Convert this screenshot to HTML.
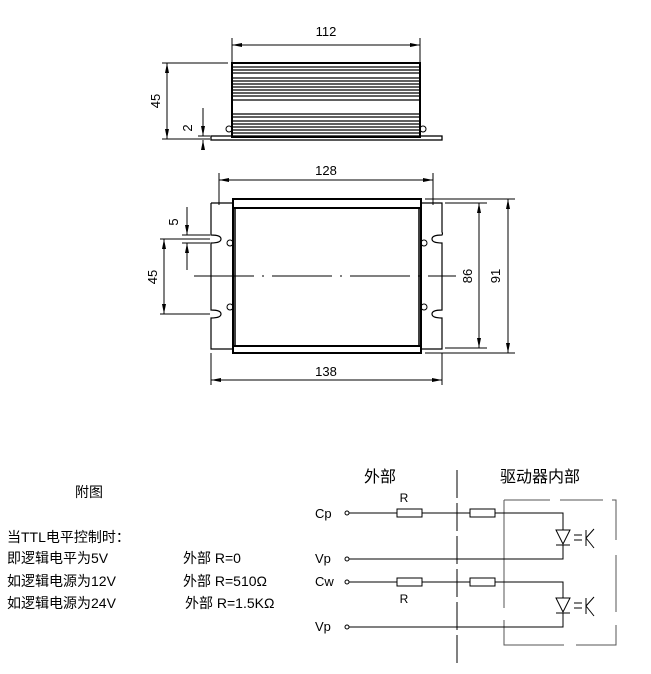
<!DOCTYPE html>
<html><head><meta charset="utf-8"><style>
body{margin:0;background:#fff}
svg{display:block}
text{font-family:"Liberation Sans","Noto Sans CJK SC",sans-serif;fill:#000}
</style></head><body>
<svg width="651" height="674" viewBox="0 0 651 674" xmlns="http://www.w3.org/2000/svg">
<defs>
<marker id="a" viewBox="0 0 10 4" refX="10" refY="2" markerWidth="10" markerHeight="4" orient="auto-start-reverse" markerUnits="userSpaceOnUse"><path d="M0,0 L10,2 L0,4z" fill="#000"/></marker>
</defs>
<g stroke="#000" fill="none" stroke-width="1">
<!-- top view -->
<line x1="232" y1="45" x2="420" y2="45" marker-start="url(#a)" marker-end="url(#a)"/>
<line x1="232" y1="38" x2="232" y2="62"/><line x1="420" y1="38" x2="420" y2="62"/>
<rect x="232" y="63" width="188" height="74" stroke-width="2"/>
<g stroke-width="1.3">
<line x1="232" y1="67" x2="420" y2="67"/><line x1="232" y1="70" x2="420" y2="70"/><line x1="232" y1="73" x2="420" y2="73"/>
<line x1="232" y1="78" x2="420" y2="78"/><line x1="232" y1="81" x2="420" y2="81"/><line x1="232" y1="84" x2="420" y2="84"/>
<line x1="232" y1="87" x2="420" y2="87"/><line x1="232" y1="90" x2="420" y2="90"/><line x1="232" y1="93" x2="420" y2="93"/>
<line x1="232" y1="96" x2="420" y2="96"/><line x1="232" y1="100" x2="420" y2="100"/>
<line x1="232" y1="114" x2="420" y2="114"/><line x1="232" y1="117" x2="420" y2="117"/><line x1="232" y1="121" x2="420" y2="121"/>
<line x1="232" y1="124" x2="420" y2="124"/><line x1="232" y1="127" x2="420" y2="127"/><line x1="232" y1="130" x2="420" y2="130"/><line x1="232" y1="133" x2="420" y2="133"/>
</g>
<rect x="211" y="136" width="231" height="4" stroke-width="1.3"/>
<circle cx="229" cy="129" r="3"/><circle cx="423" cy="129" r="3"/>
<line x1="162" y1="63" x2="228" y2="63"/><line x1="162" y1="139" x2="210" y2="139"/>
<line x1="167" y1="63" x2="167" y2="139" marker-start="url(#a)" marker-end="url(#a)"/>
<line x1="198" y1="136" x2="210" y2="136"/>
<line x1="203" y1="108" x2="203" y2="136" marker-end="url(#a)"/>
<line x1="203" y1="150" x2="203" y2="140" marker-end="url(#a)"/>
<!-- bottom view -->
<line x1="219" y1="180" x2="433" y2="180" marker-start="url(#a)" marker-end="url(#a)"/>
<line x1="219" y1="173" x2="219" y2="205"/><line x1="433" y1="173" x2="433" y2="205"/>
<path d="M211,203 H233 M421,203 H442 V232 A3,3 0 0 1 442,235 Q432,235 432,239 Q432,243 442,243 V310 Q432,310 432,314 Q432,318 442,318 V349 H421 M233,349 H211 V318 Q221,318 221,314 Q221,310 211,310 V243 Q221,243 221,239 Q221,235 211,235 V203" stroke-width="1.2"/>
<rect x="233" y="199" width="188" height="154" stroke-width="2"/>
<line x1="233" y1="208" x2="421" y2="208" stroke-width="2"/>
<line x1="233" y1="346" x2="421" y2="346" stroke-width="2"/>
<line x1="235" y1="208" x2="235" y2="346" stroke-width="1.5"/><line x1="419" y1="208" x2="419" y2="346" stroke-width="1.5"/>
<circle cx="230" cy="243" r="3"/><circle cx="230" cy="307" r="3"/><circle cx="424" cy="243" r="3"/><circle cx="424" cy="307" r="3"/>
<line x1="194" y1="276" x2="456" y2="276" stroke-dasharray="60,8,2,8"/>
<line x1="425" y1="199" x2="515" y2="199"/><line x1="425" y1="353" x2="515" y2="353"/>
<line x1="445" y1="203" x2="487" y2="203"/><line x1="445" y1="348" x2="487" y2="348"/>
<line x1="479" y1="203" x2="479" y2="348" marker-start="url(#a)" marker-end="url(#a)"/>
<line x1="508" y1="199" x2="508" y2="353" marker-start="url(#a)" marker-end="url(#a)"/>
<line x1="160" y1="239" x2="210" y2="239"/><line x1="160" y1="314" x2="210" y2="314"/>
<line x1="164" y1="239" x2="164" y2="314" marker-start="url(#a)" marker-end="url(#a)"/>
<line x1="182" y1="235" x2="210" y2="235"/><line x1="182" y1="243" x2="210" y2="243"/>
<line x1="187" y1="207" x2="187" y2="235" marker-end="url(#a)"/>
<line x1="187" y1="270" x2="187" y2="243" marker-end="url(#a)"/>
<line x1="211" y1="353" x2="211" y2="385"/><line x1="442" y1="353" x2="442" y2="385"/>
<line x1="211" y1="380" x2="442" y2="380" marker-start="url(#a)" marker-end="url(#a)"/>
</g>
<g font-size="13">
<text x="326" y="36" text-anchor="middle">112</text>
<text x="160" y="101" text-anchor="middle" transform="rotate(-90 160 101)">45</text>
<text x="192" y="128" text-anchor="middle" transform="rotate(-90 192 128)">2</text>
<text x="326" y="175" text-anchor="middle">128</text>
<text x="178" y="222" text-anchor="middle" transform="rotate(-90 178 222)">5</text>
<text x="157" y="277" text-anchor="middle" transform="rotate(-90 157 277)">45</text>
<text x="472" y="276" text-anchor="middle" transform="rotate(-90 472 276)">86</text>
<text x="500" y="276" text-anchor="middle" transform="rotate(-90 500 276)">91</text>
<text x="326" y="376" text-anchor="middle">138</text>
</g>
<!-- circuit -->
<g stroke="#000" fill="none" stroke-width="1">
<line x1="457" y1="470" x2="457" y2="668" stroke-dasharray="28,5"/>
<path d="M504,500 H550 M560,500 H603 M612,500 H616 V540 M616,555 V612 M616,625 V645 H576 M564,645 H504 V620 M504,608 V500" stroke="#555"/>
<circle cx="347" cy="513" r="2"/><circle cx="347" cy="559" r="2"/><circle cx="347" cy="582" r="2"/><circle cx="347" cy="627" r="2"/>
<path d="M349,513 H397 M422,513 H470 M495,513 H563 V530 M563,545 V559 H349"/>
<rect x="397" y="509" width="25" height="8"/><rect x="470" y="509" width="25" height="8"/>
<path d="M349,582 H397 M422,582 H470 M495,582 H563 V598 M563,613 V627 H349"/>
<rect x="397" y="578" width="25" height="8"/><rect x="470" y="578" width="25" height="8"/>
<path d="M556,530 H570 L563,544 Z M556,545 H570"/>
<path d="M556,598 H570 L563,612 Z M556,613 H570"/>
<path d="M574,535 H582 M574,540 H582 M586,530 V546 M586,538 L594,529 M586,538 L594,548"/>
<path d="M574,603 H582 M574,608 H582 M586,598 V614 M586,606 L594,597 M586,606 L594,616"/>
</g>
<g font-size="13">
<text x="380" y="482" text-anchor="middle" font-size="16">外部</text>
<text x="540" y="482" text-anchor="middle" font-size="16">驱动器内部</text>
<text x="404" y="502" text-anchor="middle" font-size="12">R</text>
<text x="404" y="603" text-anchor="middle" font-size="12">R</text>
<text x="315" y="518">Cp</text>
<text x="315" y="563">Vp</text>
<text x="315" y="586">Cw</text>
<text x="315" y="631">Vp</text>
</g>
<g font-size="14">
<text x="75" y="497">附图</text>
<text x="7" y="542">当TTL电平控制时：</text>
<text x="7" y="563">即逻辑电平为5V</text>
<text x="7" y="586">如逻辑电源为12V</text>
<text x="7" y="608">如逻辑电源为24V</text>
<text x="183" y="563">外部 R=0</text>
<text x="183" y="586">外部 R=510Ω</text>
<text x="185" y="608">外部 R=1.5KΩ</text>
</g>
</svg>
</body></html>
